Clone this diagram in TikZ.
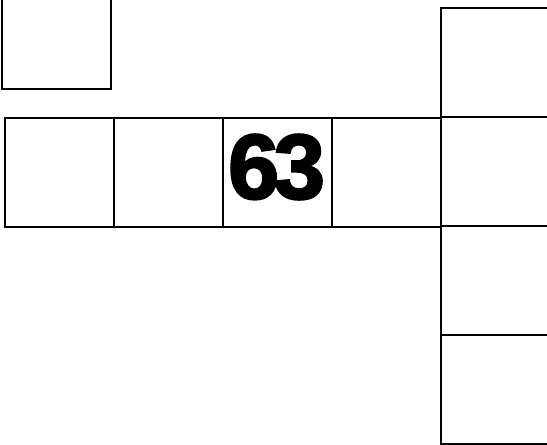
\documentclass[tikz,border=0pt]{standalone}
\usepackage{fontspec}
\usepackage{tikz}
\newfontfamily\digitfont[FakeBold=2.5]{Liberation Sans Bold}

\begin{document}
\begin{tikzpicture}[x=1pt,y=-1pt,
  cell/.style={draw,line width=2.4pt,minimum size=109pt,inner sep=0pt,outer sep=0pt}]
\useasboundingbox (0,0) rectangle (547,445);
\clip (0,0) rectangle (547,445);
% top left
\node[cell] (tl) at (56.5,34.5) {};
% middle row
\node[cell] (r1) at (59.5,172.5) {};
\node[cell] (r2) at (168.5,172.5) {};
\node[cell] (r3) at (277.5,172.5) {};
\node[cell] (r4) at (386.5,172.5) {};
\node[font=\digitfont\fontsize{92}{92}\selectfont,inner sep=0pt] (num) at (276.5,167) {6\kern-0.06em3};
% right column
\node[cell] (c1) at (495.5,62.5) {};
\node[cell] (c2) at (495.5,171.5) {};
\node[cell] (c3) at (495.5,280.5) {};
\node[cell] (c4) at (495.5,389.5) {};
\end{tikzpicture}
\end{document}
